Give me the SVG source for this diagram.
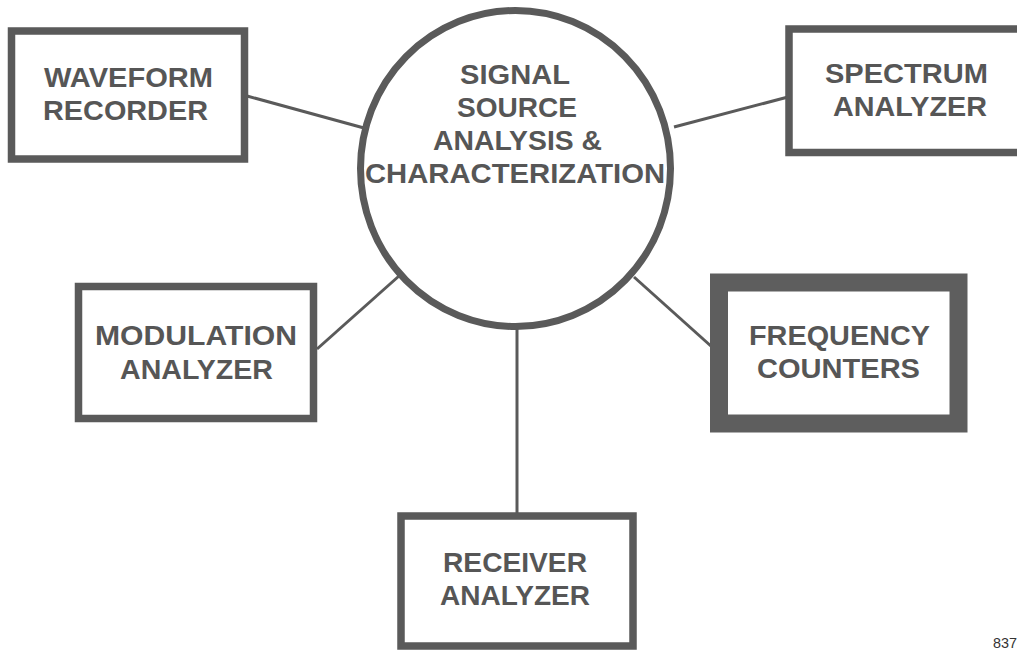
<svg xmlns="http://www.w3.org/2000/svg" width="1017" height="654" viewBox="0 0 1017 654">
<style>
.box{fill:#fff;stroke:#5a5a5a;stroke-width:7.5}
.thick{fill:#fff;stroke:#5e5e5e;stroke-width:18}
.lbl{font-family:"Liberation Sans",Arial,sans-serif;font-weight:bold;font-size:28px;fill:#565656;text-anchor:middle}
.conn{stroke:#5a5a5a;stroke-width:3;fill:none}
</style>
<rect width="1017" height="654" fill="#fff"/>
<g id="connectors">
<line class="conn" x1="247" y1="96" x2="364" y2="128"/>
<line class="conn" x1="674" y1="127" x2="788" y2="97"/>
<line class="conn" x1="317" y1="349" x2="399" y2="276"/>
<line class="conn" x1="634" y1="277" x2="712" y2="347"/>
<line class="conn" x1="517" y1="326" x2="517" y2="514"/>
</g>
<g id="center">
<ellipse cx="515.5" cy="168.5" rx="155" ry="158" fill="#fff" stroke="#5a5a5a" stroke-width="7"/>
<text class="lbl" x="515" y="84" textLength="110" lengthAdjust="spacingAndGlyphs">SIGNAL</text>
<text class="lbl" x="517" y="117" textLength="120" lengthAdjust="spacingAndGlyphs">SOURCE</text>
<text class="lbl" x="517.5" y="150" textLength="169" lengthAdjust="spacingAndGlyphs">ANALYSIS &amp;</text>
<text class="lbl" x="515" y="183" textLength="300" lengthAdjust="spacingAndGlyphs">CHARACTERIZATION</text>
</g>
<g id="waveform">
<rect class="box" x="11.5" y="31" width="233" height="128"/>
<text class="lbl" x="128.5" y="87" textLength="169" lengthAdjust="spacingAndGlyphs">WAVEFORM</text>
<text class="lbl" x="125.5" y="120" textLength="165" lengthAdjust="spacingAndGlyphs">RECORDER</text>
</g>
<g id="spectrum">
<rect class="box" x="789" y="29" width="260" height="123.5"/>
<text class="lbl" x="906.5" y="83" textLength="163" lengthAdjust="spacingAndGlyphs">SPECTRUM</text>
<text class="lbl" x="910" y="116" textLength="154" lengthAdjust="spacingAndGlyphs">ANALYZER</text>
</g>
<g id="modulation">
<rect class="box" x="78.5" y="286.5" width="235" height="132"/>
<text class="lbl" x="196" y="345" textLength="202" lengthAdjust="spacingAndGlyphs">MODULATION</text>
<text class="lbl" x="196.5" y="379" textLength="153" lengthAdjust="spacingAndGlyphs">ANALYZER</text>
</g>
<g id="frequency">
<rect class="thick" x="719" y="282.5" width="239.5" height="141"/>
<text class="lbl" x="839.5" y="345" textLength="181" lengthAdjust="spacingAndGlyphs">FREQUENCY</text>
<text class="lbl" x="838.5" y="378" textLength="163" lengthAdjust="spacingAndGlyphs">COUNTERS</text>
</g>
<g id="receiver">
<rect class="box" x="401" y="516" width="232" height="130"/>
<text class="lbl" x="515" y="572" textLength="144" lengthAdjust="spacingAndGlyphs">RECEIVER</text>
<text class="lbl" x="515" y="605" textLength="150" lengthAdjust="spacingAndGlyphs">ANALYZER</text>
</g>
<text x="993" y="648" font-family="'Liberation Sans',sans-serif" font-size="15" fill="#333" textLength="24" lengthAdjust="spacingAndGlyphs">837</text>
</svg>
